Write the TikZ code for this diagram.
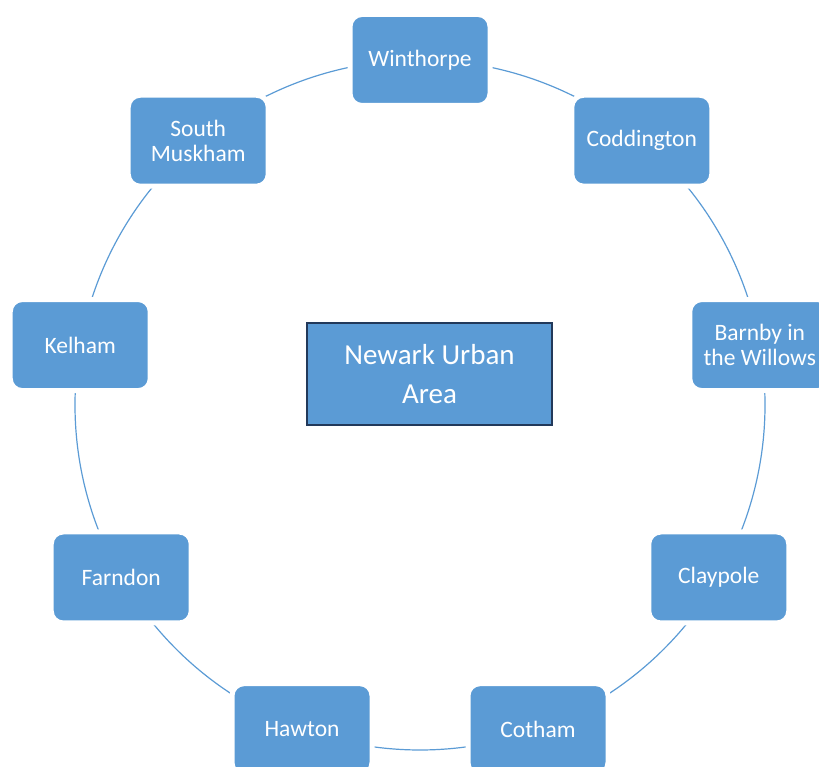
\documentclass[tikz,border=0pt]{standalone}
\usepackage{fontspec}
\setmainfont{Carlito}
\usetikzlibrary{backgrounds}
\definecolor{nodeblue}{HTML}{5B9BD5}
\definecolor{navyline}{HTML}{22395A}
\begin{document}
\begin{tikzpicture}[x=1pt,y=1pt,
  place/.style={fill=nodeblue, draw=white, line width=5pt, rounded corners=12pt,
    minimum width=140pt, minimum height=91pt, text=white, align=center,
    font=\fontsize{23.5}{25}\selectfont, inner sep=0pt},
  hub/.style={fill=nodeblue, draw=navyline, line width=2.5pt,
    minimum width=245pt, minimum height=102pt, text=white, align=center,
    font=\fontsize{29}{39}\selectfont, inner sep=0pt},
  link/.style={draw=nodeblue, line width=1.2pt}]
\clip (0,0) rectangle (819,767);
\coordinate (O) at (420,362);
\node[hub] (hub) at (429.5,393) {Newark Urban\\Area};
\node[place] (win) at ([shift={(90:345)}]O) {Winthorpe};
\node[place] (cod) at ([shift={(50:345)}]O) {Coddington};
\node[place] (bar) at ([shift={(10:345)}]O) {Barnby in\\the Willows};
\node[place] (cla) at ([shift={(-30:345)}]O) {Claypole};
\node[place] (cot) at ([shift={(-70:345)}]O) {Cotham};
\node[place] (haw) at ([shift={(-110:345)}]O) {Hawton};
\node[place] (far) at ([shift={(-150:345)}]O) {Farndon};
\node[place] (kel) at ([shift={(170:345)}]O) {Kelham};
\node[place] (smu) at ([shift={(130:345)}]O) {South\\Muskham};
\begin{scope}[on background layer]
\draw[link] (win.center) arc[start angle=90, delta angle=40, radius=345];
\draw[link] (smu.center) arc[start angle=130, delta angle=40, radius=345];
\draw[link] (kel.center) arc[start angle=170, delta angle=40, radius=345];
\draw[link] (far.center) arc[start angle=210, delta angle=40, radius=345];
\draw[link] (haw.center) arc[start angle=250, delta angle=40, radius=345];
\draw[link] (cot.center) arc[start angle=290, delta angle=40, radius=345];
\draw[link] (cla.center) arc[start angle=330, delta angle=40, radius=345];
\draw[link] (bar.center) arc[start angle=10, delta angle=40, radius=345];
\draw[link] (cod.center) arc[start angle=50, delta angle=40, radius=345];
\end{scope}
\end{tikzpicture}
\end{document}
